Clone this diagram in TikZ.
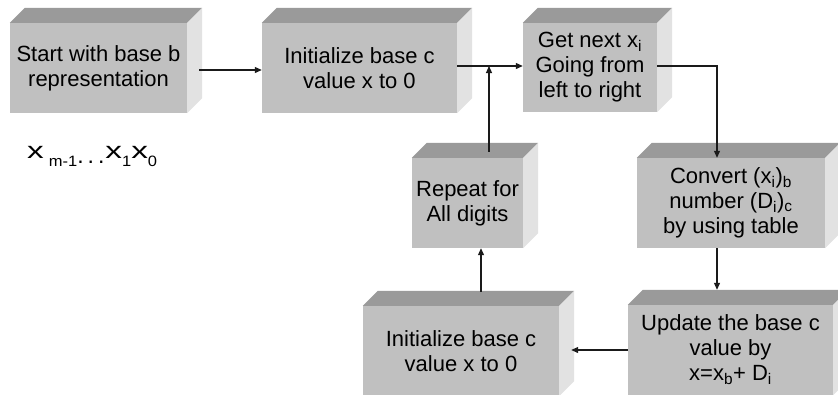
\documentclass[tikz,border=0pt]{standalone}
\usepackage{fontspec}
\setmainfont{Liberation Sans}
\usepackage{graphicx}
\usetikzlibrary{arrows.meta,calc}
\definecolor{frontc}{HTML}{C0C0C0}
\definecolor{topc}{HTML}{9A9A9A}
\definecolor{sidec}{HTML}{E2E2E2}
\definecolor{linec}{HTML}{1A1A1A}
\newcommand\boxthreed[6]{%
  \node[cube, minimum width=#4pt, minimum height=#5pt] (#1) at (#2,#3) {#6};
  \fill[topc] (#1.north west) -- ++(15,-15) -- ([shift={(15,-15)}]#1.north east) -- (#1.north east) -- cycle;
  \fill[sidec] (#1.north east) -- ++(15,-15) -- ([shift={(15,-15)}]#1.south east) -- (#1.south east) -- cycle;
}
\newcommand\bigx{\scalebox{1.45}[1]{x}}
\newcommand\subx[1]{\raisebox{-8pt}{\scalebox{1.1}[1]{\fontsize{15}{15}\selectfont #1}}}
\tikzset{
  cube/.style={fill=frontc, inner sep=0pt, align=center, font=\fontsize{22}{25}\selectfont},
  arr/.style={draw=linec, line width=1.1pt, -{Triangle[length=7pt,width=6pt]}},
  conn/.style={draw=linec, line width=1.1pt}
}
\begin{document}
\begin{tikzpicture}[x=1pt,y=-1pt]
\useasboundingbox (0,0) rectangle (838,394);
\begin{scope}
\clip (0,0) rectangle (838,394);
\boxthreed{b1}{98.5}{68}{177}{90}{Start with base b\\representation}
\boxthreed{b2}{359.5}{68}{195}{90}{Initialize base c\\value x to 0}
\boxthreed{b3}{590}{67.5}{134}{89}{Get next x\textsubscript{i}\\Going from\\left to right}
\boxthreed{b4}{731}{203}{188}{90}{Convert (x\textsubscript{i})\textsubscript{b}\\number (D\textsubscript{i})\textsubscript{c}\\by using table}
\boxthreed{b5}{467.5}{203}{111}{90}{Repeat for\\All digits}
\boxthreed{b6}{461}{351}{196}{90}{Initialize base c\\value x to 0}
\boxthreed{b7}{730.5}{350}{205}{90}{Update the base c\\value by\\x=x\textsubscript{b}+ D\textsubscript{i}}
\end{scope}

\node[anchor=base west, inner sep=0pt, font=\fontsize{23}{23}\selectfont] (lbl) at (27,158)
  {\bigx\hspace{5pt}\subx{m-1}\raisebox{-5pt}{.\hspace{4pt}.\hspace{4pt}.}\hspace{1pt}\bigx\subx{1}\bigx\subx{0}};

% connectors
\coordinate (s12) at ([shift={(12,2)}]b1.east);
\draw[arr] (s12) -- (b2.west |- s12);
\coordinate (s23) at ([yshift=2pt]b2.east);
\draw[arr] (s23) -- (b3.west |- s23);
\coordinate (r5) at ([shift={(21.5,-6)}]b5.north);
\draw[arr] (r5) -- (r5 |- s23);
\coordinate (s34) at ([yshift=1.5pt]b3.east);
\coordinate (t4) at ([xshift=-14pt]b4.north);
\draw[arr] (s34) -| (t4);
\coordinate (s47) at ([xshift=-14pt]b4.south);
\coordinate (t7) at ([shift={(-13.5,-15)}]b7.north);
\draw[arr] (s47) -- (s47 |- t7);
\coordinate (t6) at ([xshift=12pt]b6.east);
\draw[arr] (b7.west) -- (b7.west -| t6);
\coordinate (k5) at ([xshift=13.5pt]b5.south);
\coordinate (n6) at ([yshift=14pt]b6.north);
\draw[arr] (n6 -| k5) -- (k5);
\end{tikzpicture}
\end{document}
